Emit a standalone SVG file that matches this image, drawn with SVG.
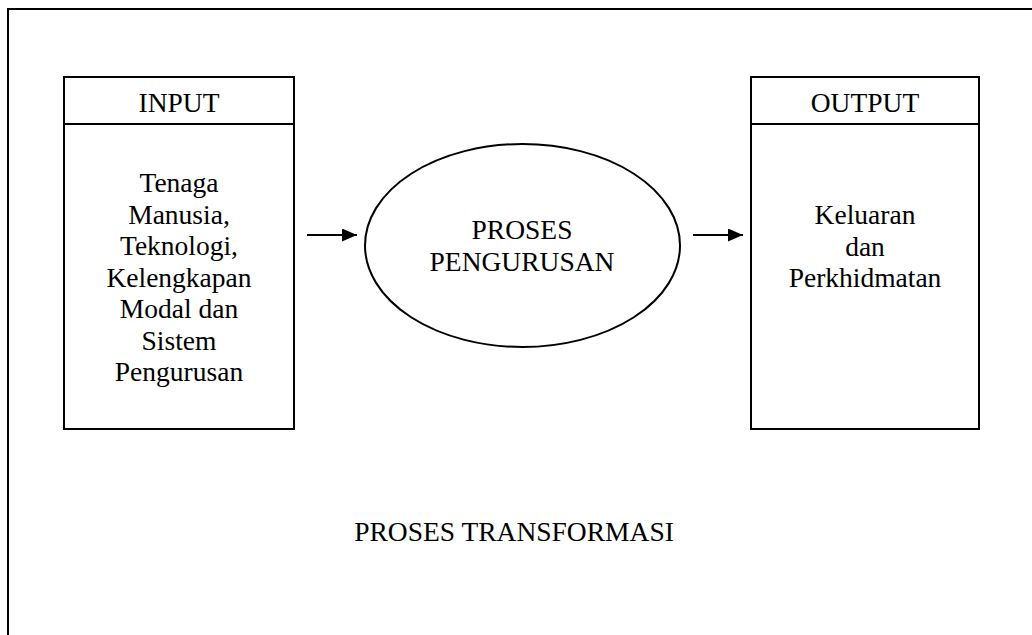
<svg xmlns="http://www.w3.org/2000/svg" width="1032" height="635" viewBox="0 0 1032 635">
<style>
.box{fill:#fff;stroke:#000;stroke-width:2}
.t{font-family:"Liberation Serif","Times New Roman",serif;font-size:27.5px;fill:#000;text-anchor:middle}
.conn{stroke:#000;stroke-width:2;fill:none}
</style>
<defs>
<marker id="ah" markerWidth="15" markerHeight="13" refX="15" refY="6.5" orient="auto" markerUnits="userSpaceOnUse">
<path d="M0,0 L15,6.5 L0,13 Z" fill="#000"/>
</marker>
</defs>
<rect width="1032" height="635" fill="#fff"/>
<g id="frame">
<rect x="8" y="9" width="1040" height="640" class="box"/>
</g>
<g id="input">
<rect x="64" y="77" width="230" height="352" class="box"/>
<line x1="64" y1="124" x2="294" y2="124" class="conn"/>
<text class="t" x="179" y="112">INPUT</text>
<text class="t" x="179" y="192">Tenaga</text>
<text class="t" x="179" y="223.5">Manusia,</text>
<text class="t" x="179" y="255">Teknologi,</text>
<text class="t" x="179" y="286.5">Kelengkapan</text>
<text class="t" x="179" y="318">Modal dan</text>
<text class="t" x="179" y="349.5">Sistem</text>
<text class="t" x="179" y="381">Pengurusan</text>
</g>
<g id="proses">
<ellipse cx="522.5" cy="245.5" rx="157.5" ry="101.5" class="box"/>
<text class="t" x="522" y="239">PROSES</text>
<text class="t" x="522" y="271">PENGURUSAN</text>
</g>
<g id="output">
<rect x="751" y="77" width="228" height="352" class="box"/>
<line x1="751" y1="124" x2="979" y2="124" class="conn"/>
<text class="t" x="865" y="112">OUTPUT</text>
<text class="t" x="865" y="224">Keluaran</text>
<text class="t" x="865" y="255.5">dan</text>
<text class="t" x="865" y="287">Perkhidmatan</text>
</g>
<g id="label">
<text class="t" x="514" y="541">PROSES TRANSFORMASI</text>
</g>
<g id="connectors">
<line x1="307" y1="235" x2="357" y2="235" class="conn" marker-end="url(#ah)"/>
<line x1="693" y1="235" x2="743" y2="235" class="conn" marker-end="url(#ah)"/>
</g>
</svg>
